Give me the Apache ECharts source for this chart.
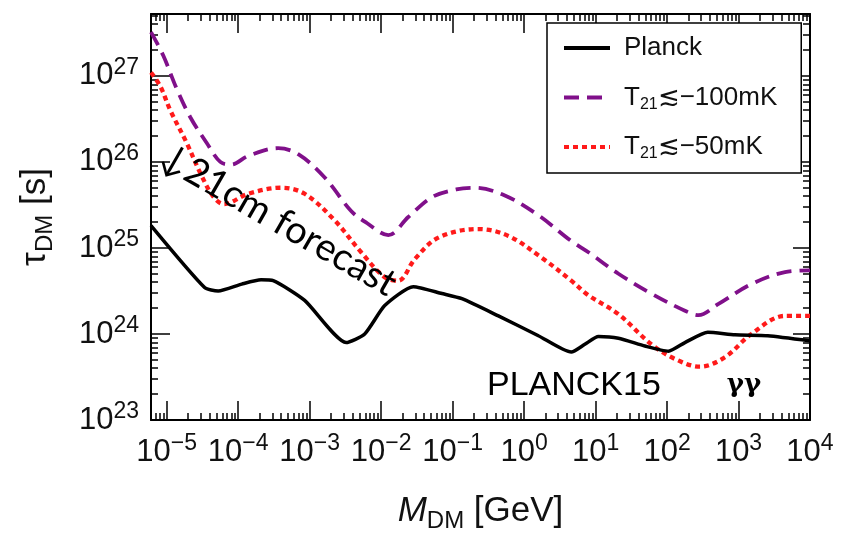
<!DOCTYPE html>
<html>
<head>
<meta charset="utf-8">
<script src="https://cdn.jsdelivr.net/npm/echarts@6/dist/echarts.min.js"></script>
<style>
  html, body { margin: 0; padding: 0; background: #fff; }
  #chart { width: 848px; height: 535px; }
</style>
</head>
<body>
<div id="chart"></div>
<script>
// Curves are stored as log10 values: mass in GeV, lifetime in seconds.
const planckLogMass = [-5.22, -4.47, -4.28, -3.95, -3.68, -3.51, -3.07, -2.49, -2.23, -1.95, -1.55, -1.15, -0.87, -0.36, 0.20, 0.66, 0.85, 1.04, 1.32, 1.69, 2.02, 2.25, 2.57, 2.95, 3.41, 4.00];
const planckLogTau  = [25.26, 24.54, 24.50, 24.58, 24.63, 24.62, 24.39, 23.90, 24.00, 24.33, 24.55, 24.47, 24.41, 24.21, 23.98, 23.79, 23.88, 23.97, 23.95, 23.86, 23.80, 23.90, 24.02, 23.99, 23.98, 23.92];

const t100LogMass = [-5.22, -5.05, -4.86, -4.67, -4.44, -4.25, -4.10, -3.86, -3.44, -3.16, -2.79, -2.42, -2.20, -1.90, -1.62, -1.29, -0.95, -0.69, -0.27, 0.20, 0.66, 0.90, 1.32, 1.78, 2.25, 2.44, 2.72, 3.18, 3.65, 4.00];
const t100LogTau  = [27.51, 27.24, 26.85, 26.52, 26.22, 26.00, 25.97, 26.07, 26.16, 26.09, 25.82, 25.43, 25.29, 25.15, 25.36, 25.59, 25.68, 25.70, 25.61, 25.38, 25.08, 24.95, 24.70, 24.47, 24.27, 24.22, 24.35, 24.58, 24.72, 24.74];

const t50LogMass = [-5.22, -5.09, -4.95, -4.72, -4.53, -4.35, -4.20, -3.86, -3.40, -3.07, -2.65, -2.28, -1.95, -1.76, -1.53, -1.20, -0.64, -0.22, 0.24, 0.66, 0.90, 1.32, 1.78, 2.11, 2.46, 2.81, 3.18, 3.65, 4.00];
const t50LogTau  = [27.04, 26.88, 26.60, 26.22, 25.87, 25.60, 25.51, 25.63, 25.70, 25.63, 25.32, 24.95, 24.66, 24.62, 24.87, 25.12, 25.22, 25.14, 24.89, 24.62, 24.45, 24.23, 23.88, 23.71, 23.62, 23.73, 24.00, 24.21, 24.21];

const seriesNames = ['Planck', 'T21≲−100mK', 'T21≲−50mK'];

// Axis extents and decade ticks (exponents of 10)
const xRange = [-5.22, 4];
const yRange = [23, 27.72];
const xMajor = [-5, -4, -3, -2, -1, 0, 1, 2, 3, 4];
const yMajor = [23, 24, 25, 26, 27];

// Positions of 2..9 × 10^n inside a log10 range
function minorTicks(lo, hi) {
  const out = [];
  for (let d = Math.floor(lo) - 1; d <= Math.ceil(hi); d++) {
    for (let k = 2; k <= 9; k++) {
      const v = d + Math.log10(k);
      if (v > lo + 1e-6 && v < hi - 1e-6) out.push(v);
    }
  }
  return out;
}
const xMinor = minorTicks(xRange[0], xRange[1]);
const yMinor = minorTicks(yRange[0], yRange[1]);

const zip = (a, b) => a.map((v, i) => [v, b[i]]);
const FONT = '"Liberation Sans", Arial, sans-serif';
const INK = '#111';

const powerLabel = v => '{b|10}{s|' + String(v).replace('-', '−') + '}';
const tickRich = {
  b: { fontFamily: FONT, fontSize: 31, color: INK, lineHeight: 40 },
  s: { fontFamily: FONT, fontSize: 23, color: INK, lineHeight: 23, verticalAlign: 'top' }
};

// Plot rectangle shared by the data grid (major ticks) and the minor-tick grid
const plotRect = { left: 151, right: 38, top: 14, bottom: 115, containLabel: false, outerBoundsMode: 'none' };

function makeAxis(kind, grid, position, ticks, len, opts) {
  const axis = {
    type: 'value',
    gridIndex: grid,
    position: position,
    min: kind === 'x' ? xRange[0] : yRange[0],
    max: kind === 'x' ? xRange[1] : yRange[1],
    axisLine: { show: !!opts.line, onZero: false, lineStyle: { color: '#000', width: 2 } },
    axisTick: { show: true, inside: true, length: len, customValues: ticks, lineStyle: { color: '#000', width: 1.5 } },
    axisLabel: { show: false },
    splitLine: { show: false }
  };
  if (opts.labels) {
    axis.axisLabel = {
      show: true,
      customValues: ticks,
      formatter: powerLabel,
      margin: opts.margin,
      rich: tickRich
    };
  }
  if (opts.name) {
    axis.name = opts.name;
    axis.nameLocation = 'middle';
    axis.nameGap = opts.nameGap;
    axis.nameTextStyle = opts.nameTextStyle;
    if (opts.nameRotate !== undefined) axis.nameRotate = opts.nameRotate;
  }
  return axis;
}

const nameRich = {
  m: { fontFamily: FONT, fontSize: 35, color: INK, lineHeight: 44 },
  i: { fontFamily: FONT, fontSize: 35, color: INK, lineHeight: 44, fontStyle: 'italic' },
  d: { fontFamily: FONT, fontSize: 24, color: INK, lineHeight: 24, verticalAlign: 'bottom' }
};

const option = {
  animation: false,
  backgroundColor: '#fff',
  grid: [Object.assign({}, plotRect), Object.assign({}, plotRect)],
  xAxis: [
    makeAxis('x', 0, 'bottom', xMajor, 19, {
      line: true, labels: true, margin: 12,
      name: '{i|M}{d|DM}{m| [GeV]}', nameGap: 69, nameTextStyle: { rich: nameRich }
    }),
    makeAxis('x', 0, 'top', xMajor, 19, { line: true }),
    makeAxis('x', 1, 'bottom', xMinor, 7, {}),
    makeAxis('x', 1, 'top', xMinor, 7, {})
  ],
  yAxis: [
    makeAxis('y', 0, 'left', yMajor, 19, {
      line: true, labels: true, margin: 12,
      name: '{m|τ}{d|DM}{m| [s]}', nameGap: 94, nameRotate: 90, nameTextStyle: { rich: nameRich }
    }),
    makeAxis('y', 0, 'right', yMajor, 17, { line: true }),
    makeAxis('y', 1, 'left', yMinor, 7, {}),
    makeAxis('y', 1, 'right', yMinor, 7, {})
  ],
  legend: {
    orient: 'vertical',
    left: 547,
    top: 23,
    padding: [10, 24, 11, 15],
    itemWidth: 46,
    itemHeight: 14,
    itemGap: 19.5,
    borderColor: '#000',
    borderWidth: 1.5,
    backgroundColor: '#fff',
    itemStyle: { opacity: 0 },
    lineStyle: { width: 4 },
    data: seriesNames,
    formatter: name => name.replace('T21', 'T{sub|21}'),
    textStyle: {
      fontFamily: FONT, fontSize: 26, color: INK, lineHeight: 30, padding: [0, 0, 0, 9],
      rich: { sub: { fontFamily: FONT, fontSize: 16, color: INK, lineHeight: 16, verticalAlign: 'bottom' } }
    }
  },
  series: [
    {
      name: seriesNames[0], type: 'line', xAxisIndex: 0, yAxisIndex: 0,
      data: zip(planckLogMass, planckLogTau),
      symbol: 'none', smooth: 0.2, z: 3,
      lineStyle: { color: '#000', width: 3.5, type: 'solid' },
      itemStyle: { color: '#000' }
    },
    {
      name: seriesNames[1], type: 'line', xAxisIndex: 0, yAxisIndex: 0,
      data: zip(t100LogMass, t100LogTau),
      symbol: 'none', smooth: 0.35, z: 2,
      lineStyle: { color: '#80108a', width: 3.8, type: [15, 8], cap: 'butt' },
      itemStyle: { color: '#80108a' }
    },
    {
      name: seriesNames[2], type: 'line', xAxisIndex: 0, yAxisIndex: 0,
      data: zip(t50LogMass, t50LogTau),
      symbol: 'none', smooth: 0.35, z: 2,
      lineStyle: { color: '#ff1a1a', width: 4.3, type: [5, 4], cap: 'butt' },
      itemStyle: { color: '#ff1a1a' }
    }
  ],
  graphic: [
    {
      type: 'text', x: 487, y: 386, z: 10,
      style: { text: 'PLANCK15', font: '34px ' + FONT, fill: '#000', align: 'left', verticalAlign: 'middle' }
    },
    {
      type: 'text', x: 744, y: 385, z: 10,
      style: { text: 'γγ', font: 'bold 26px "DejaVu Serif", serif', fill: '#000', align: 'center', verticalAlign: 'middle' }
    },
    {
      type: 'text', x: 278, y: 220, z: 10, rotation: -30 * Math.PI / 180,
      style: { text: '↓21cm forecast', font: '38px Lato, "Open Sans", sans-serif', fill: '#000', align: 'center', verticalAlign: 'middle' }
    }
  ]
};

const chart = echarts.init(document.getElementById('chart'), null, { renderer: 'canvas' });
chart.setOption(option);
</script>
</body>
</html>
